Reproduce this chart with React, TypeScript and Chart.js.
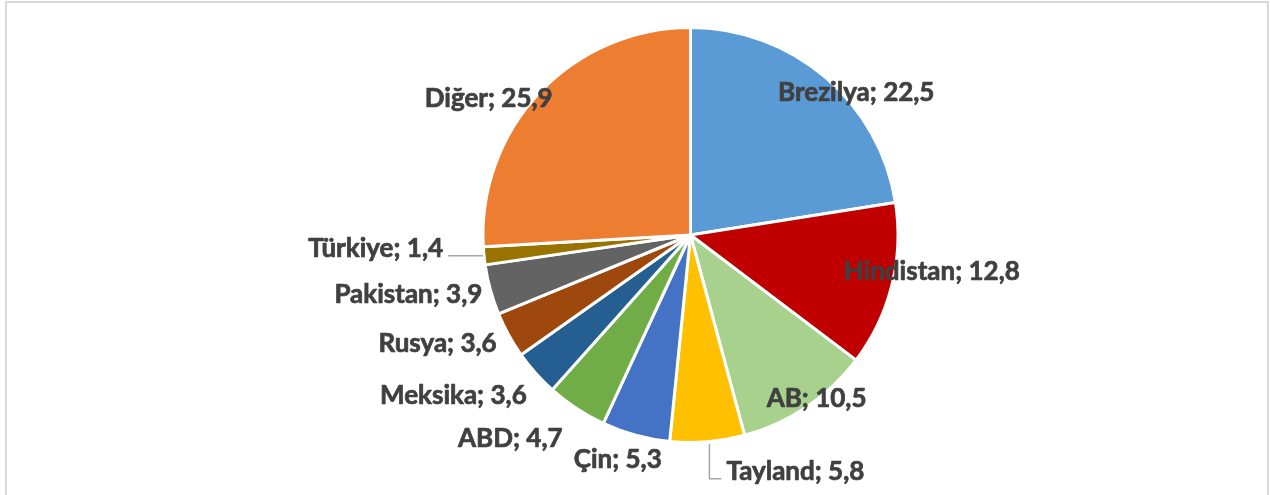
import React, { useEffect, useRef } from "react";
import { Chart, registerables } from "chart.js";

Chart.register(...registerables);

const categories = ["Brezilya", "Hindistan", "AB", "Tayland", "Çin", "ABD", "Meksika", "Rusya", "Pakistan", "Türkiye", "Diğer"];
const shares = [22.5, 12.8, 10.5, 5.8, 5.3, 4.7, 3.6, 3.6, 3.9, 1.4, 25.9];
const sliceColors = ["#5B9BD5", "#C00000", "#A9D18E", "#FFC000", "#4472C4", "#70AD47", "#255E91", "#9E480E", "#636363", "#997300", "#ED7D31"];

// label placement (style): offset from the slice's outer mid-point; dy is to the text baseline
const labelPlacement = [
  { align: "center", dx: 31, dy: 24 },
  { align: "center", dx: 40, dy: -5 },
  { align: "center", dx: 10, dy: 0 },
  { align: "left", dx: 19, dy: 38, leader: "v" },
  { align: "center", dx: -18, dy: 33 },
  { align: "right", dx: -14, dy: 39 },
  { align: "right", dx: -9, dy: 31 },
  { align: "right", dx: -12, dy: 17 },
  { align: "right", dx: -8, dy: 13 },
  { align: "right", dx: -41, dy: 1, leader: "h" },
  { align: "center", dx: -51, dy: 15 },
];

const fmt = (v: number) => v.toFixed(1).replace(".", ",");

const labelPlugin = {
  id: "sliceLabels",
  afterDatasetsDraw(chart: any) {
    const ctx = chart.ctx;
    const meta = chart.getDatasetMeta(0);
    ctx.save();
    ctx.font = "bold 26px Lato";
    ctx.fillStyle = "#404040";
    ctx.textBaseline = "alphabetic";
    ctx.lineJoin = "round";
    meta.data.forEach((arc: any, i: number) => {
      const { x, y, startAngle, endAngle, outerRadius } = arc.getProps(["x", "y", "startAngle", "endAngle", "outerRadius"], true);
      const mid = (startAngle + endAngle) / 2;
      const px = x + Math.cos(mid) * outerRadius;
      const py = y + Math.sin(mid) * outerRadius;
      const p = labelPlacement[i];
      const text = `${categories[i]}; ${fmt(shares[i])}`;
      const tx = px + p.dx;
      const ty = py + p.dy;
      ctx.textAlign = p.align as CanvasTextAlign;
      ctx.strokeStyle = "#404040";
      ctx.lineWidth = 0.7;
      ctx.fillText(text, tx, ty);
      ctx.strokeText(text, tx, ty);
      if (p.leader) {
        ctx.strokeStyle = "#A6A6A6";
        ctx.lineWidth = 1.5;
        ctx.beginPath();
        if (p.leader === "v") {
          ctx.moveTo(px + 2, py + 2);
          ctx.lineTo(px + 2, ty - 1);
          ctx.lineTo(tx - 5, ty - 1);
        } else {
          ctx.moveTo(px - 1, py);
          ctx.lineTo(tx + 5, py);
        }
        ctx.stroke();
      }
    });
    ctx.restore();
  },
};

export default function App() {
  const ref = useRef<HTMLCanvasElement>(null);
  useEffect(() => {
    if (!ref.current) return;
    const chart = new Chart(ref.current, {
      type: "pie",
      data: {
        labels: categories,
        datasets: [
          {
            data: shares,
            backgroundColor: sliceColors,
            borderColor: "#FFFFFF",
            borderWidth: 3,
          },
        ],
      },
      options: {
        animation: false,
        responsive: false,
        devicePixelRatio: 1,
        layout: { padding: { left: 111, right: 0, top: 26, bottom: 51 } },
        plugins: {
          legend: { display: false },
          tooltip: { enabled: false },
        },
      },
      plugins: [labelPlugin],
    });
    return () => chart.destroy();
  }, []);

  return (
    <div style={{ position: "fixed", left: 0, top: 0, width: 1270, height: 495, overflow: "hidden", background: "#fff" }}>
      <div
        style={{
          position: "absolute",
          left: 5,
          top: 1,
          width: 1264,
          height: 620,
          boxSizing: "border-box",
          border: "2px solid #D9D9D9",
        }}
      />
      <canvas ref={ref} width={1270} height={495} style={{ position: "absolute", left: 0, top: 0 }} />
    </div>
  );
}
